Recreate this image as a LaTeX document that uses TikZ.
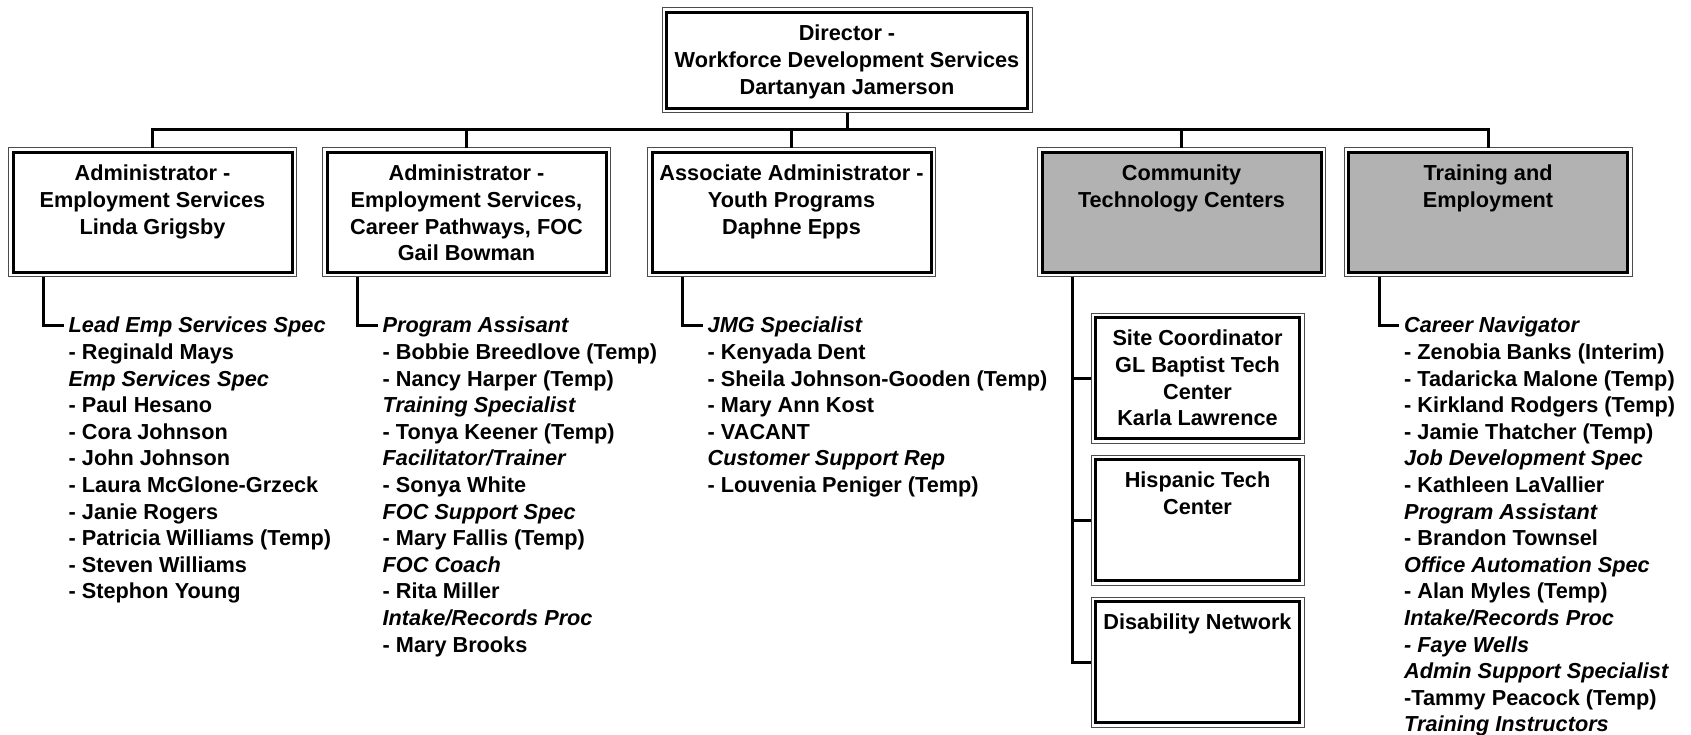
\documentclass[tikz,border=0pt]{standalone}
\usepackage{fontspec}
\setmainfont{Liberation Sans}

\begin{document}
\begin{tikzpicture}[x=1pt, y=-1pt,
	orgbox/.style={draw=black!70, line width=1pt, fill=white, inner sep=0pt, outer sep=0pt,
		path picture={\draw[black, line width=3pt, fill=#1]
			([shift={(4.5pt,-4.5pt)}]path picture bounding box.north west) rectangle
			([shift={(-4.5pt,4.5pt)}]path picture bounding box.south east);}},
	orgbox/.default=white,
	boxtext/.style={anchor=north, yshift=-17pt, align=center, inner sep=0pt, font=\fontsize{21.7}{26.6}\selectfont\bfseries},
	staff/.style={anchor=north west, align=left, inner sep=0pt, font=\fontsize{21.7}{26.6}\selectfont\bfseries},
	conn/.style={line width=3pt}]
	\useasboundingbox (0,0) rectangle (1691,735);

	% top
	\node[orgbox, minimum width=370, minimum height=105] at (847,60.5) (dir) {};
	\node[boxtext] at (dir.north) {Director -\\Workforce Development Services\\Dartanyan Jamerson};

	% second row
	\node[orgbox, minimum width=288, minimum height=129] at (152.5,212.5) (es) {};
	\node[boxtext] at (es.north) {Administrator -\\Employment Services\\Linda Grigsby};
	\node[orgbox, minimum width=288, minimum height=129] at (466.5,212.5) (cp) {};
	\node[boxtext] at (cp.north) {Administrator -\\Employment Services,\\Career Pathways, FOC\\Gail Bowman};
	\node[orgbox, minimum width=288, minimum height=129] at (791.5,212.5) (yp) {};
	\node[boxtext] at (yp.north) {Associate Administrator -\\Youth Programs\\Daphne Epps};
	\node[orgbox=black!30, minimum width=288, minimum height=129] at (1181.5,212.5) (ctc) {};
	\node[boxtext] at (ctc.north) {Community\\Technology Centers};
	\node[orgbox=black!30, minimum width=288, minimum height=129] at (1488,212.5) (te) {};
	\node[boxtext] at (te.north) {Training and\\Employment};

	\draw[conn] (dir.south) -- ++(0,17);
	\draw[conn] (es.north) -- ++(0,-18) -| (te.north);
	\foreach \b in {cp, yp, ctc}
		\draw[conn] (\b.north) -- ++(0,-18);

	% technology centers
	\node[orgbox, minimum width=213, minimum height=130] at (1197.5,378) (gl-baptist) {};
	\node[boxtext] at (gl-baptist.north) {Site Coordinator\\GL Baptist Tech\\Center\\Karla Lawrence};
	\node[orgbox, minimum width=213, minimum height=130] at (1197.5,520) (hispanic) {};
	\node[boxtext] at (hispanic.north) {Hispanic Tech\\Center};
	\node[orgbox, minimum width=213, minimum height=130] at (1197.5,662) (disability) {};
	\node[boxtext] at (disability.north) {Disability Network};

	\draw[conn] ([xshift=35pt]ctc.south west) |- (gl-baptist.west);
	\draw[conn] ([xshift=35pt]ctc.south west) |- (hispanic.west);
	\draw[conn] ([xshift=35pt]ctc.south west) |- (disability.west);

	% staff lists
	\node[staff] at ([shift={(60pt,-40pt)}]es.south west) (es-staff) {\textit{Lead Emp Services Spec}\\- Reginald Mays\\\textit{Emp Services Spec}\\- Paul Hesano\\- Cora Johnson\\- John Johnson\\- Laura McGlone-Grzeck\\- Janie Rogers\\- Patricia Williams (Temp)\\- Steven Williams\\- Stephon Young};
	\node[staff] at ([shift={(60pt,-40pt)}]cp.south west) (cp-staff) {\textit{Program Assisant}\\- Bobbie Breedlove (Temp)\\- Nancy Harper (Temp)\\\textit{Training Specialist}\\- Tonya Keener (Temp)\\\textit{Facilitator/Trainer}\\- Sonya White\\\textit{FOC Support Spec}\\- Mary Fallis (Temp)\\\textit{FOC Coach}\\- Rita Miller\\\textit{Intake/Records Proc}\\- Mary Brooks};
	\node[staff] at ([shift={(60pt,-40pt)}]yp.south west) (yp-staff) {\textit{JMG Specialist}\\- Kenyada Dent\\- Sheila Johnson-Gooden (Temp)\\- Mary Ann Kost\\- VACANT\\\textit{Customer Support Rep}\\- Louvenia Peniger (Temp)};
	\node[staff] at ([shift={(60pt,-40pt)}]te.south west) (te-staff) {\textit{Career Navigator}\\- Zenobia Banks (Interim)\\- Tadaricka Malone (Temp)\\- Kirkland Rodgers (Temp)\\- Jamie Thatcher (Temp)\\\textit{Job Development Spec}\\- Kathleen LaVallier\\\textit{Program Assistant}\\- Brandon Townsel\\\textit{Office Automation Spec}\\- Alan Myles (Temp)\\\textit{Intake/Records Proc}\\\textit{- Faye Wells}\\\textit{Admin Support Specialist}\\-Tammy Peacock (Temp)\\\textit{Training Instructors}};

	\foreach \b in {es, cp, yp, te}
		\draw[conn] ([xshift=35pt]\b.south west) |- ([shift={(-5pt,-8pt)}]\b-staff.north west);
\end{tikzpicture}
\end{document}
